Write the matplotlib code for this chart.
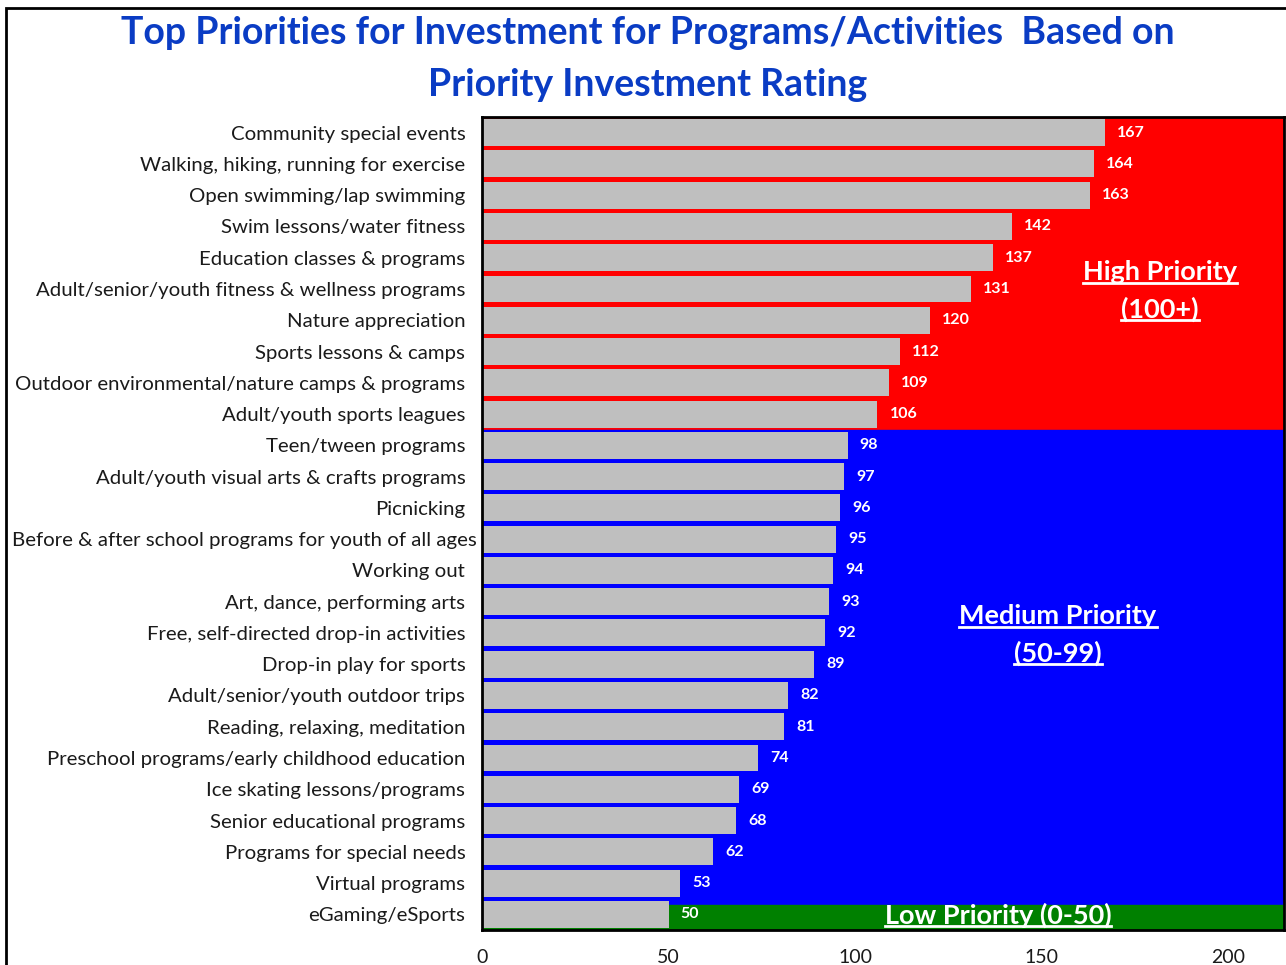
import matplotlib
matplotlib.use("Agg")
import matplotlib.pyplot as plt
from matplotlib.lines import Line2D
from matplotlib.patches import Rectangle
from matplotlib.transforms import ScaledTranslation

plt.rcParams['font.family'] = ['Lato', 'DejaVu Sans']

categories = [
    "Community special events",
    "Walking, hiking, running for exercise",
    "Open swimming/lap swimming",
    "Swim lessons/water fitness",
    "Education classes & programs",
    "Adult/senior/youth fitness & wellness programs",
    "Nature appreciation",
    "Sports lessons & camps",
    "Outdoor environmental/nature camps & programs",
    "Adult/youth sports leagues",
    "Teen/tween programs",
    "Adult/youth visual arts & crafts programs",
    "Picnicking",
    "Before & after school programs for youth of all ages",
    "Working out",
    "Art, dance, performing arts",
    "Free, self-directed drop-in activities",
    "Drop-in play for sports",
    "Adult/senior/youth outdoor trips",
    "Reading, relaxing, meditation",
    "Preschool programs/early childhood education",
    "Ice skating lessons/programs",
    "Senior educational programs",
    "Programs for special needs",
    "Virtual programs",
    "eGaming/eSports",
]
values = [167, 164, 163, 142, 137, 131, 120, 112, 109, 106,
          98, 97, 96, 95, 94, 93, 92, 89, 82, 81, 74, 69, 68, 62, 53, 50]
x_ticks = [0, 50, 100, 150, 200]

title = "Top Priorities for Investment for Programs/Activities  Based on\nPriority Investment Rating"

W, H = 1286, 965
fig = plt.figure(figsize=(W / 100, H / 100), dpi=100)
ax = fig.add_axes([482 / W, 1 - 930 / H, (1284 - 482) / W, (930 - 117) / H])

n = len(categories)
ypos = list(range(n))
ax.set_ylim(n - 0.5, -0.5)
ax.set_xlim(0, 215)

# priority background bands
n_high = sum(1 for v in values if v >= 100)
n_low = sum(1 for v in values if v <= 50)
low_start = n - n_low - 0.3
ax.axhspan(-0.5, n_high - 0.5, color='#FF0000', zorder=0)
ax.axhspan(n_high - 0.5, low_start, color='#0000FF', zorder=0)
ax.axhspan(low_start, n - 0.5, color='#008000', zorder=0)

ax.barh(ypos, values, height=0.86, color='#BFBFBF', zorder=2)

for y, v in zip(ypos, values):
    ax.text(v + 3.3, y, str(v), color='white', fontweight='bold', fontsize=11.5,
            va='center', ha='left', zorder=3)

ax.set_yticks(ypos)
ax.set_yticklabels(categories, fontsize=14.7, color='#1a1a1a')
ax.set_xticks(x_ticks)
ax.set_xticklabels([str(t) for t in x_ticks], fontsize=14, color='#1a1a1a')
ax.tick_params(axis='both', length=0)
ax.tick_params(axis='y', pad=12)
ax.tick_params(axis='x', pad=14)
for s in ax.spines.values():
    s.set_color('black')
    s.set_linewidth(2)
    s.set_zorder(5)

# the longest label sits closer to the axis (as in the original)
longest = max(range(n), key=lambda i: len(categories[i]))
lbl = ax.get_yticklabels()[longest]
lbl.set_transform(lbl.get_transform() + ScaledTranslation(11 / 100, 0, fig.dpi_scale_trans))

fig.text(648 / W, 1 - 59 / H, title, ha='center', va='center', color='#0A3CC4',
         fontsize=27, fontweight='bold', linespacing=1.62)

# figure frame
fig.patches.append(Rectangle((6 / W, -0.1), 1.2, 1 - 8 / H + 0.1, transform=fig.transFigure,
                             fill=False, edgecolor='black', linewidth=2, zorder=10))

# region labels
labels = [
    ("High Priority", 1160, 272),
    ("(100+)", 1160, 309),
    ("Medium Priority", 1058, 616),
    ("(50-99)", 1058, 653),
    ("Low Priority (0-50)", 998, 915),
]
texts = []
for s, x, y in labels:
    t = fig.text(x / W, 1 - y / H, s, ha='center', va='center', color='white',
                 fontsize=19.5, fontweight='bold', zorder=6)
    texts.append(t)

fig.canvas.draw()
r = fig.canvas.get_renderer()
for t in texts:
    bb = t.get_window_extent(renderer=r)
    yline = bb.y0 + 1.5
    fig.lines.append(Line2D([bb.x0 / W, bb.x1 / W], [yline / H, yline / H],
                            transform=fig.transFigure, color='white', linewidth=2, zorder=6))

fig.savefig("out.png", dpi=100)
